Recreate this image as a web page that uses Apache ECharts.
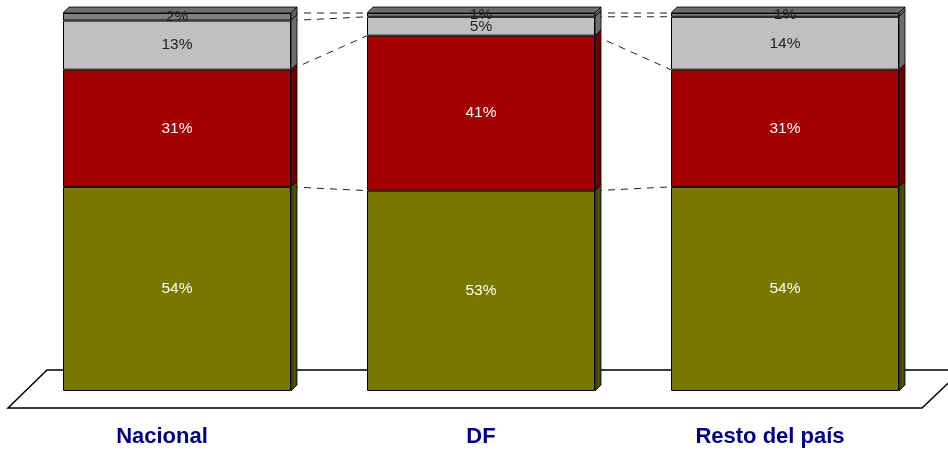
<!DOCTYPE html>
<html>
<head>
<meta charset="utf-8">
<script src="https://cdn.jsdelivr.net/npm/echarts@6/dist/echarts.min.js"></script>
<style>html,body{margin:0;padding:0;background:#fff;}#c{width:948px;height:454px;}</style>
</head>
<body>
<div id="c"></div>
<script>
const categories = ['Nacional', 'DF', 'Resto del país'];
const segOlive = [54, 53, 54];
const segRed = [31, 41, 31];
const segLight = [13, 5, 14];
const segDark = [2, 1, 1];

const segments = [segOlive, segRed, segLight, segDark];
const frontColors = ['#787800', '#a50000', '#c0c0c0', '#808080'];
const sideColors = ['#4a4a00', '#6a0000', '#6e6e6e', '#5e5e5e'];
const topColor = '#6e6e6e';
const labelColors = ['#ffffff', '#ffffff', '#222222', '#222222'];
const FONT = '"Liberation Sans", Arial, sans-serif';
const DEPTH = 6;

const faceData = [];
const cum = categories.map(() => [0]);
categories.forEach((c, ci) => {
  let base = 0;
  segments.forEach((seg, si) => {
    faceData.push([ci, base, base + seg[ci], si]);
    base += seg[ci];
    cum[ci].push(base);
  });
});
const lineData = [];
for (let ci = 0; ci < categories.length - 1; ci++) {
  for (let k = 1; k < cum[ci].length; k++) {
    lineData.push([ci, cum[ci][k], cum[ci + 1][k]]);
  }
}

const barSeries = segments.map((seg, si) => ({
  type: 'bar',
  stack: 'total',
  barWidth: '75%',
  z: 3,
  data: seg,
  itemStyle: { color: frontColors[si], borderColor: '#000', borderWidth: 1 },
  label: {
    show: true,
    position: 'inside',
    formatter: '{c}%',
    fontFamily: FONT,
    fontSize: 15.5,
    color: labelColors[si]
  },
  emphasis: { disabled: true },
  animation: false
}));

const chart = echarts.init(document.getElementById('c'), null, { renderer: 'canvas' });
chart.setOption({
  animation: false,
  backgroundColor: '#fff',
  grid: { left: 25, right: 11, top: 13, bottom: 63 },
  graphic: [{
    type: 'polygon',
    z: 0,
    shape: { points: [[47, 370], [962, 370], [922, 408], [8, 408]] },
    style: { fill: '#fff', stroke: '#000', lineWidth: 1.5 }
  }],
  xAxis: {
    type: 'category',
    data: categories,
    axisLine: { show: false },
    axisTick: { show: false },
    axisLabel: {
      margin: 35,
      formatter: (v, i) => '{l' + i + '|' + v + '}',
      rich: {
        l0: { fontFamily: FONT, fontSize: 22, fontWeight: 'bold', color: '#000080', padding: [0, 30, 0, 0] },
        l1: { fontFamily: FONT, fontSize: 22, fontWeight: 'bold', color: '#000080' },
        l2: { fontFamily: FONT, fontSize: 22, fontWeight: 'bold', color: '#000080', padding: [0, 30, 0, 0] }
      }
    }
  },
  yAxis: { type: 'value', min: 0, max: 100, show: false },
  series: barSeries.concat([
    {
      type: 'custom',
      z: 1,
      silent: true,
      clip: false,
      data: lineData,
      renderItem: (params, api) => {
        const w = api.size([1, 0])[0] * 0.75;
        const ci = api.value(0);
        const a = api.coord([ci, api.value(1)]);
        const b = api.coord([ci + 1, api.value(2)]);
        return {
          type: 'line',
          shape: { x1: a[0] + w / 2, y1: a[1], x2: b[0] - w / 2, y2: b[1] },
          style: { stroke: '#222', lineWidth: 1, lineDash: [7, 6] }
        };
      }
    },
    {
      type: 'custom',
      z: 2,
      silent: true,
      clip: false,
      data: faceData,
      renderItem: (params, api) => {
        const ci = api.value(0);
        const si = api.value(3);
        const p0 = api.coord([ci, api.value(1)]);
        const p1 = api.coord([ci, api.value(2)]);
        const w = api.size([1, 0])[0] * 0.75;
        const xl = p0[0] - w / 2, xr = p0[0] + w / 2;
        const d = DEPTH;
        const children = [{
          type: 'polygon',
          shape: { points: [[xr, p0[1]], [xr + d, p0[1] - d], [xr + d, p1[1] - d], [xr, p1[1]]] },
          style: { fill: sideColors[si], stroke: '#000', lineWidth: 0.8 }
        }];
        if (si === segments.length - 1) {
          children.push({
            type: 'polygon',
            shape: { points: [[xl, p1[1]], [xl + d, p1[1] - d], [xr + d, p1[1] - d], [xr, p1[1]]] },
            style: { fill: topColor, stroke: '#000', lineWidth: 0.8 }
          });
        }
        return { type: 'group', children: children };
      }
    }
  ])
});
</script>
</body>
</html>
